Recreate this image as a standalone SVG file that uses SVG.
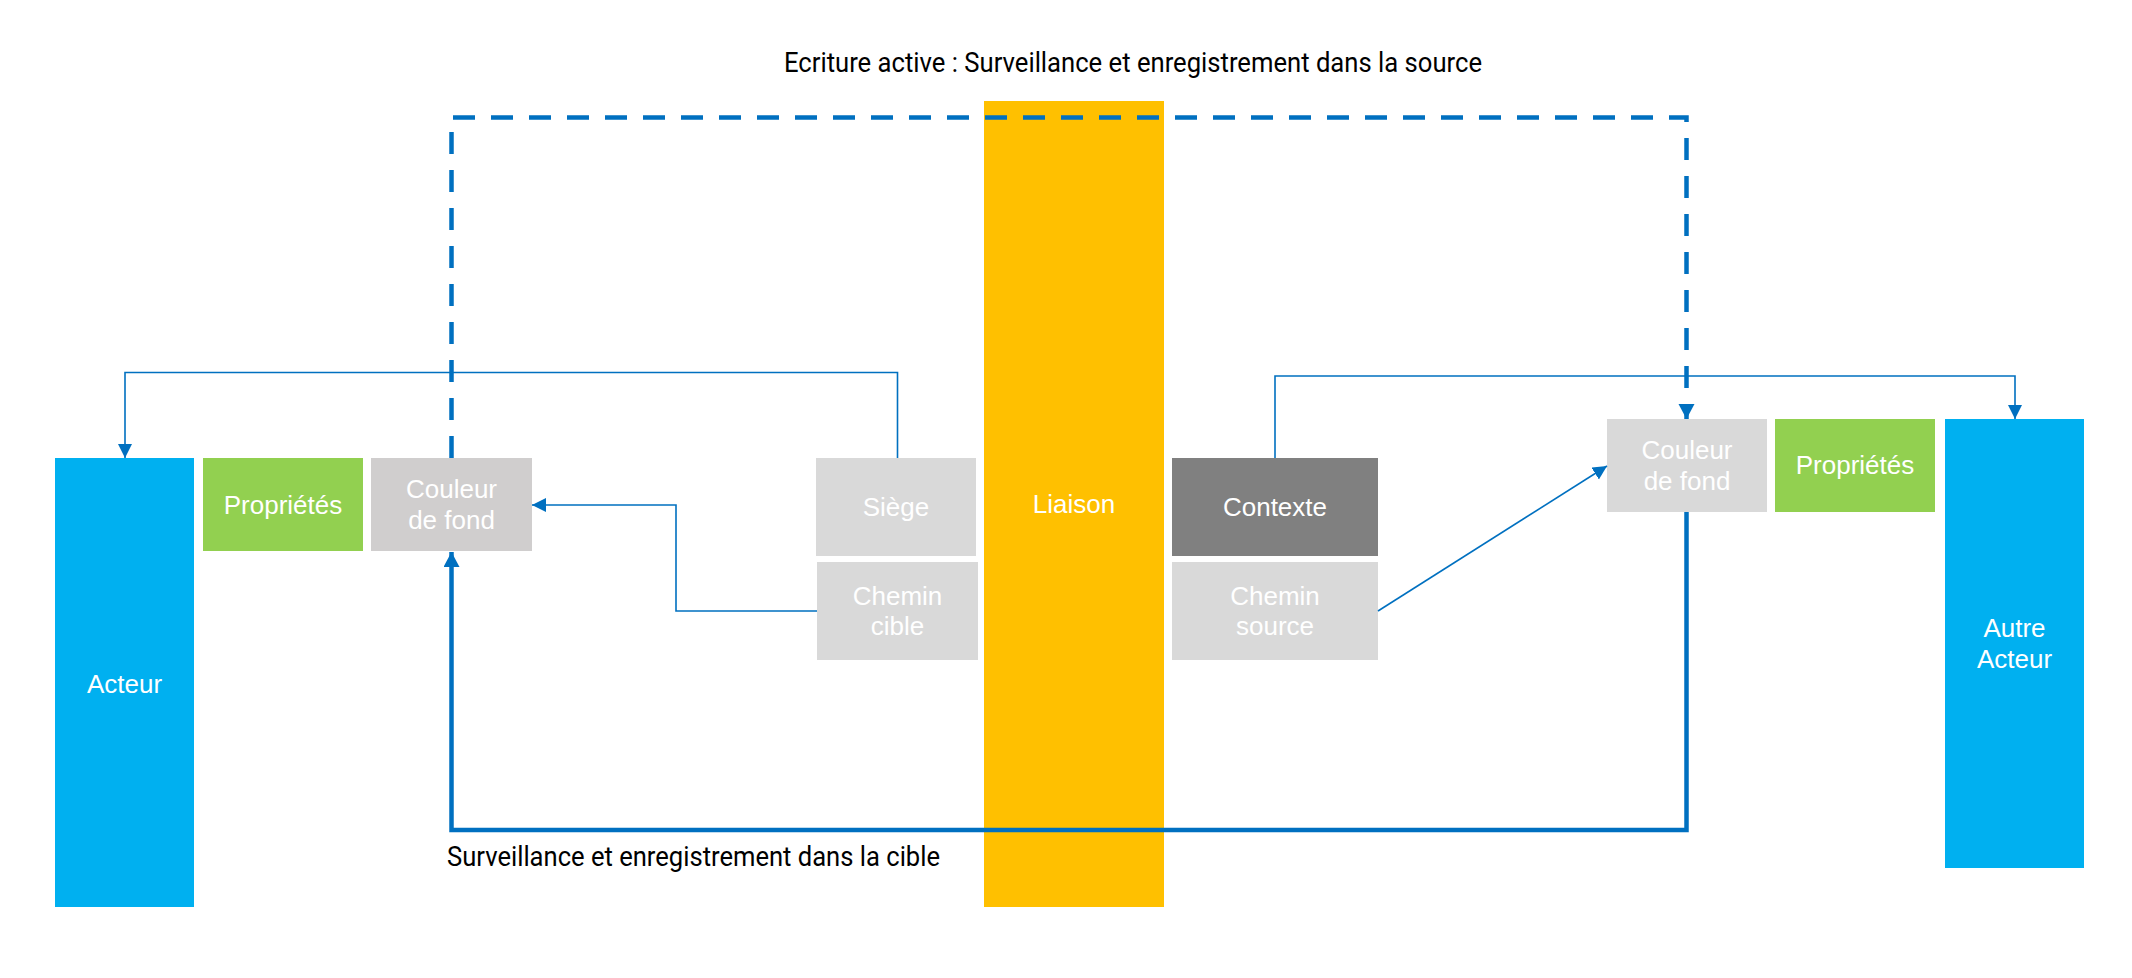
<svg xmlns="http://www.w3.org/2000/svg" width="2132" height="978" viewBox="0 0 2132 978">
<style>
.lbl{font-family:"Liberation Sans",Arial,sans-serif;font-size:26px;fill:#ffffff;text-anchor:middle}
.cap{font-family:Roboto,"Liberation Sans",sans-serif;font-size:28px;fill:#000000}
.thin{fill:none;stroke:#0070C0;stroke-width:1.6}
.thick{fill:none;stroke:#0070C0;stroke-width:4.5}
</style>
<defs>
<marker id="aThin" markerUnits="userSpaceOnUse" markerWidth="15" markerHeight="15" refX="14" refY="7" orient="auto">
<path d="M0,0 L14,7 L0,14 z" fill="#0070C0"/>
</marker>
<marker id="aThick" markerUnits="userSpaceOnUse" markerWidth="17" markerHeight="17" refX="15" refY="8" orient="auto">
<path d="M0,0 L15,8 L0,16 z" fill="#0070C0"/>
</marker>
</defs>
<rect width="2132" height="978" fill="#ffffff"/>
<g id="acteur"><rect x="55" y="458" width="139" height="449" fill="#00B0F0"/><text class="lbl" x="124.5" y="693">Acteur</text></g>
<g id="proprietes-l"><rect x="203" y="458" width="160" height="93" fill="#92D050"/><text class="lbl" x="283" y="514">Propriétés</text></g>
<g id="couleur-l"><rect x="371" y="458" width="161" height="93" fill="#D0CECE"/><text class="lbl" x="451.5" y="498">Couleur</text><text class="lbl" x="451.5" y="529">de fond</text></g>
<g id="siege"><rect x="816" y="458" width="160" height="98" fill="#D9D9D9"/><text class="lbl" x="896" y="516">Siège</text></g>
<g id="chemin-cible"><rect x="817" y="562" width="161" height="98" fill="#D9D9D9"/><text class="lbl" x="897.5" y="605">Chemin</text><text class="lbl" x="897.5" y="635">cible</text></g>
<g id="liaison"><rect x="984" y="101" width="180" height="806" fill="#FFC000"/><text class="lbl" x="1074" y="513">Liaison</text></g>
<g id="contexte"><rect x="1172" y="458" width="206" height="98" fill="#808080"/><text class="lbl" x="1275" y="516">Contexte</text></g>
<g id="chemin-source"><rect x="1172" y="562" width="206" height="98" fill="#D9D9D9"/><text class="lbl" x="1275" y="605">Chemin</text><text class="lbl" x="1275" y="635">source</text></g>
<g id="couleur-r"><rect x="1607" y="419" width="160" height="93" fill="#D9D9D9"/><text class="lbl" x="1687" y="459">Couleur</text><text class="lbl" x="1687" y="490">de fond</text></g>
<g id="proprietes-r"><rect x="1775" y="419" width="160" height="93" fill="#92D050"/><text class="lbl" x="1855" y="474">Propriétés</text></g>
<g id="autre-acteur"><rect x="1945" y="419" width="139" height="449" fill="#00B0F0"/><text class="lbl" x="2014.5" y="637">Autre</text><text class="lbl" x="2014.5" y="668">Acteur</text></g>
<g id="connectors">
<path class="thick" d="M451.5,458 V117.5 H1686.5 V419" stroke-dasharray="22 16" marker-end="url(#aThick)"/>
<path class="thick" d="M1686.5,512 V830 H451.5 V552" marker-end="url(#aThick)"/>
<path class="thin" d="M897.5,458 V372.5 H125 V458" marker-end="url(#aThin)"/>
<path class="thin" d="M817,611 H676 V505 H532" marker-end="url(#aThin)"/>
<path class="thin" d="M1275,458 V376 H2015 V419" marker-end="url(#aThin)"/>
<path class="thin" d="M1378,611 L1607,466" marker-end="url(#aThin)"/>
</g>
<g id="labels">
<text class="cap" x="784" y="72" textLength="698" lengthAdjust="spacingAndGlyphs">Ecriture active : Surveillance et enregistrement dans la source</text>
<text class="cap" x="447" y="866" textLength="493" lengthAdjust="spacingAndGlyphs">Surveillance et enregistrement dans la cible</text>
</g>
</svg>
